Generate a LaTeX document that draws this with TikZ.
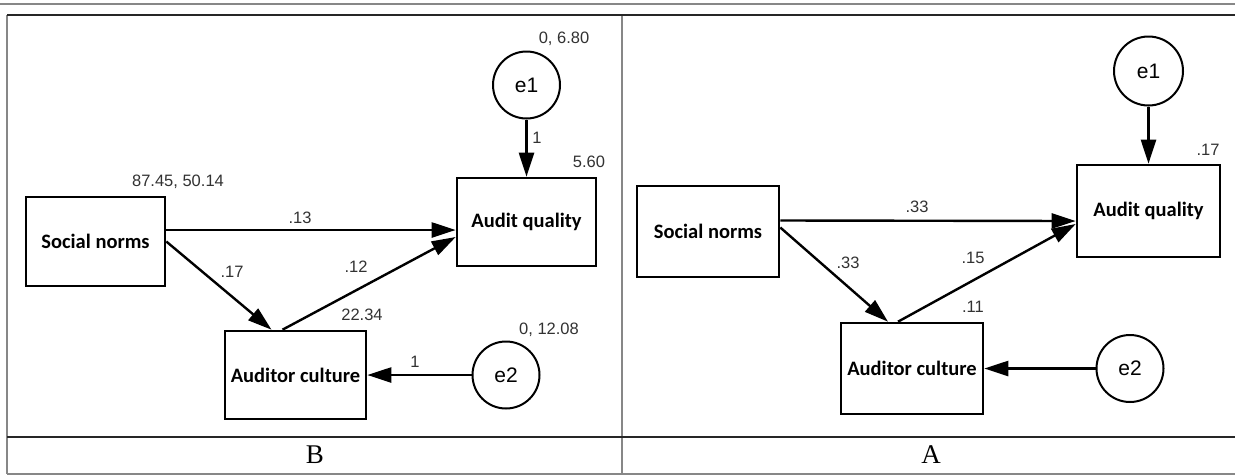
\documentclass[tikz,border=0pt]{standalone}
\usepackage{fontspec}
\setmainfont{Liberation Sans}
\newfontfamily\labfont{Carlito}
\newfontfamily\serfont{Liberation Serif}
\usetikzlibrary{arrows.meta,calc}
\definecolor{numgray}{RGB}{50,50,50}
\definecolor{rulegray}{RGB}{135,135,135}
\begin{document}
\begin{tikzpicture}[x=1pt,y=-1pt,
  box/.style={draw=black, line width=2.6pt, inner sep=0pt,
    font=\labfont\bfseries\fontsize{20.5}{20.5}\selectfont,
    minimum width=140pt, minimum height=89pt},
  err/.style={draw=black, circle, line width=2pt, minimum size=67pt,
    inner sep=0pt, font=\fontsize{21}{21}\selectfont},
  arr/.style={-{Triangle[length=24pt,width=15pt]}, line width=2.4pt},
  num/.style={font=\fontsize{16.5}{16.5}\selectfont, text=numgray, inner sep=0pt},
  darkrule/.style={line width=2pt, draw=black!85},
  lightrule/.style={line width=1.6pt, draw=rulegray},
  panellab/.style={font=\serfont\fontsize{27}{27}\selectfont, inner sep=0pt}]
\fill[white] (0,0) rectangle (1235,475);
\useasboundingbox (0,0) rectangle (1235,475);
% table rules
\draw[lightrule] (0,4) -- (1235,4);
\draw[lightrule] (7,15) -- (7,474);
\draw[lightrule] (622,15) -- (622,474);
\draw[lightrule] (7,474) -- (1235,474);
\draw[darkrule] (7,15) -- (1235,15);
\draw[darkrule] (7,437) -- (1235,437);
\node[panellab] (labB) at (315,455) {B};
\node[panellab] (labA) at (931,455) {A};

% ---------- panel B ----------
\node[box, minimum width=139pt] (snB) at (95.5,241.5) {Social norms};
\node[box, minimum width=139pt, minimum height=88pt] (aqB) at (526.5,222) {Audit quality};
\node[box, minimum width=141pt, minimum height=88pt] (acB) at (295.5,375) {Auditor culture};
\node[err] (e1B) at (526.5,85) {e1};
\node[err] (e2B) at (506,375) {e2};

\draw[arr] (e1B) -- (aqB);
\draw[arr] ($(snB.east)+(0,-11.5)$) -- ($(aqB.west)+(0,8)$);
\draw[arr] (snB.east) -- ($(acB.north)+(-24,0)$);
\draw[arr] ($(acB.north)+(-13,0)$) -- ($(aqB.west)+(0,15)$);
\draw[arr] (e2B) -- (acB);

\node[num] (nB1) at (178,182) {87.45, 50.14};
\node[num] (nB2) at (300,218) {.13};
\node[num] (nB3) at (232,272) {.17};
\node[num] (nB4) at (356,267) {.12};
\node[num] (nB5) at (362,315) {22.34};
\node[num] (nB6) at (564,39) {0, 6.80};
\node[num] (nB7) at (537,138) {1};
\node[num] (nB8) at (589,162) {5.60};
\node[num] (nB9) at (549,330) {0, 12.08};
\node[num] (nB10) at (415,362) {1};

% ---------- panel A ----------
\node[box, minimum width=142pt, minimum height=91pt] (snA) at (708,231.5) {Social norms};
\node[box, minimum width=143pt, minimum height=92pt] (aqA) at (1148.5,211) {Audit quality};
\node[box, minimum width=142pt, minimum height=91pt] (acA) at (912,368.5) {Auditor culture};
\node[err, minimum size=69pt] (e1A) at (1148.5,71) {e1};
\node[err] (e2A) at (1130,368.5) {e2};

\draw[arr] (e1A) -- (aqA);
\draw[arr] ($(snA.east)+(0,-11)$) -- ($(aqA.west)+(0,10)$);
\draw[arr] ($(snA.east)+(0,-4)$) -- ($(acA.north)+(-24,0)$);
\draw[arr] ($(acA.north)+(-14,0)$) -- ($(aqA.west)+(0,13)$);
\draw[arr] (e2A) -- (acA);

\node[num] (nA1) at (917,207) {.33};
\node[num] (nA2) at (848,263) {.33};
\node[num] (nA3) at (973,258) {.15};
\node[num] (nA4) at (973,307) {.11};
\node[num] (nA5) at (1208,150) {.17};
\end{tikzpicture}
\end{document}
